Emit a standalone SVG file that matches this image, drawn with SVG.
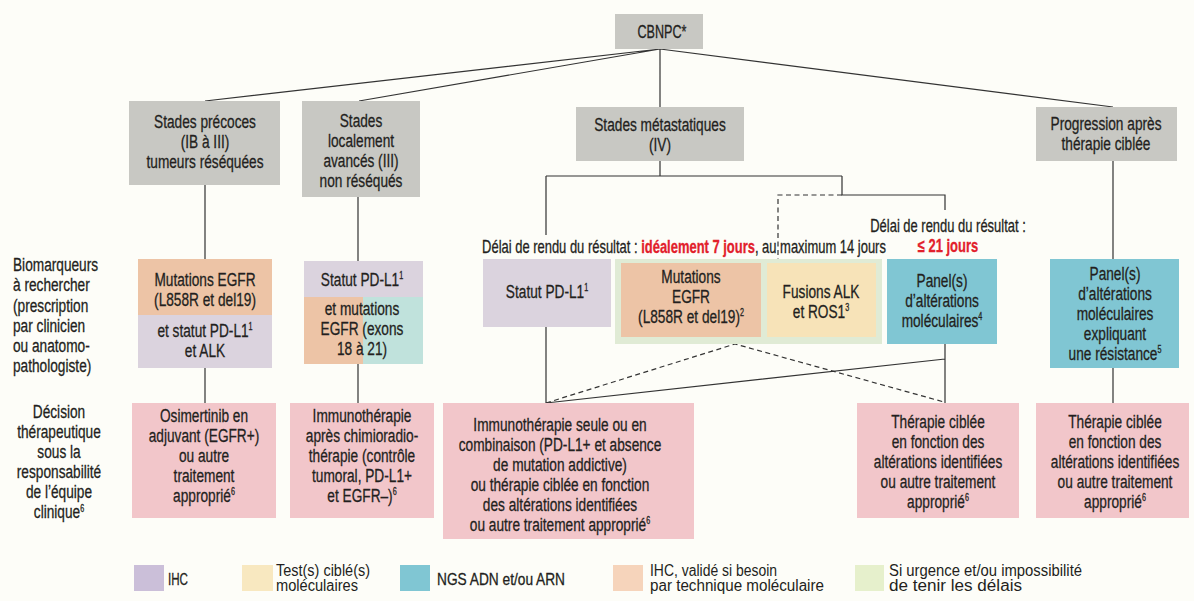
<svg xmlns="http://www.w3.org/2000/svg" width="1194" height="601" viewBox="0 0 1194 601">
<style>
.gray{fill:#c8c8c3}
.lav{fill:#dbd3de}
.ora{fill:#edc4a6}
.yel{fill:#f7e3b8}
.teal{fill:#80c6d3}
.lteal{fill:#c0e2dc}
.grn{fill:#e0ebd5}
.pink{fill:#f2c6ca}
text{font-family:"Liberation Sans",Arial,sans-serif;font-size:19px;fill:#231f20;stroke:#231f20;stroke-width:.3}
.m{text-anchor:middle}
.s{font-size:10px}
.d{font-size:18px}
.lg{font-size:17px}
.lg2{font-size:16px;stroke-width:0}
.cb{font-size:18px}
.red{fill:#e2202b;stroke:#e2202b;font-weight:bold}
.ln{stroke:#333;stroke-width:1.2;fill:none}
.ds{stroke-dasharray:5 3.5}
</style>
<rect width="1194" height="601" fill="#fdfdf8"/>

<g id="connectors">
  <path class="ln" d="M660 49 L205 101 M660 49 L359 101 M660 49 L660 107 M660 49 L1113 107"/>
  <path class="ln" d="M205 185 V259 M205 368 V403"/>
  <path class="ln" d="M358 197 V261 M358 364 V403"/>
  <path class="ln" d="M660 161 V176 M546 176 H842 M546 176 V235 M842 176 V195 H945 V210"/>
  <path class="ln ds" d="M842 195 H778 V259"/>
  <path class="ln" d="M546 327 V403 M546 403 L945 359 M945 344 V403"/>
  <path class="ln ds" d="M546 403 L735 344 L944 402"/>
  <path class="ln" d="M1113 161 V259 M1113 368 V403"/>
</g>

<g id="n-cbnpc">
  <rect class="gray" x="615" y="14" width="88" height="35"/>
  <text class="m cb" transform="translate(662 0) scale(.7 1)"><tspan x="0" y="38">CBNPC*</tspan></text>
</g>

<g id="n-precoces">
  <rect class="gray" x="129" y="101" width="151" height="84"/>
  <text class="m" transform="translate(205 0) scale(.72 1)"><tspan x="0" y="128">Stades précoces</tspan><tspan x="0" y="148">(IB à III)</tspan><tspan x="0" y="168">tumeurs réséquées</tspan></text>
</g>

<g id="n-localement">
  <rect class="gray" x="302" y="101" width="118" height="96"/>
  <text class="m" transform="translate(361 0) scale(.72 1)"><tspan x="0" y="127">Stades</tspan><tspan x="0" y="147">localement</tspan><tspan x="0" y="167">avancés (III)</tspan><tspan x="0" y="187">non réséqués</tspan></text>
</g>

<g id="n-metastatiques">
  <rect class="gray" x="576" y="107" width="168" height="54"/>
  <text class="m" transform="translate(660 0) scale(.72 1)"><tspan x="0" y="131">Stades métastatiques</tspan><tspan x="0" y="151">(IV)</tspan></text>
</g>

<g id="n-progression">
  <rect class="gray" x="1036" y="107" width="141" height="54"/>
  <text class="m" transform="translate(1106 0) scale(.72 1)"><tspan x="0" y="130">Progression après</tspan><tspan x="0" y="150">thérapie ciblée</tspan></text>
</g>

<g id="n-label-biomarqueurs">
  <text transform="translate(13 0) scale(.72 1)"><tspan x="0" y="271">Biomarqueurs</tspan><tspan x="0" y="291">à rechercher</tspan><tspan x="0" y="312">(prescription</tspan><tspan x="0" y="332">par clinicien</tspan><tspan x="0" y="352">ou anatomo-</tspan><tspan x="0" y="372">pathologiste)</tspan></text>
</g>

<g id="n-label-decision">
  <text class="m" transform="translate(59 0) scale(.72 1)"><tspan x="0" y="418">Décision</tspan><tspan x="0" y="438">thérapeutique</tspan><tspan x="0" y="458">sous la</tspan><tspan x="0" y="478">responsabilité</tspan><tspan x="0" y="498">de l’équipe</tspan><tspan x="0" y="518">clinique</tspan><tspan class="s" dy="-6">6</tspan></text>
</g>

<g id="n-bio-precoces">
  <rect class="ora" x="138" y="259" width="134" height="56"/>
  <rect class="lav" x="138" y="315" width="134" height="53"/>
  <text class="m" transform="translate(205 0) scale(.72 1)"><tspan x="0" y="286">Mutations EGFR</tspan><tspan x="0" y="306">(L858R et del19)</tspan><tspan x="0" y="337">et statut PD-L1</tspan><tspan class="s" dy="-7">1</tspan><tspan x="0" y="357">et ALK</tspan></text>
</g>

<g id="n-bio-localement">
  <rect class="lav" x="304" y="261" width="119" height="36"/>
  <rect class="ora" x="304" y="297" width="59" height="67"/>
  <rect class="lteal" x="363" y="297" width="60" height="67"/>
  <text class="m" transform="translate(362 0) scale(.72 1)"><tspan x="0" y="286">Statut PD-L1</tspan><tspan class="s" dy="-7">1</tspan><tspan x="0" y="315">et mutations</tspan><tspan x="0" y="335">EGFR (exons</tspan><tspan x="0" y="355">18 à 21)</tspan></text>
</g>

<g id="n-delai-1">
  <text class="m d" transform="translate(684 0) scale(.72 1)"><tspan x="0" y="253">Délai de rendu du résultat : <tspan class="red">idéalement 7 jours</tspan>, au maximum 14 jours</tspan></text>
</g>

<g id="n-delai-2">
  <text class="m d" transform="translate(948 0) scale(.72 1)"><tspan x="0" y="232">Délai de rendu du résultat :</tspan><tspan class="red" x="0" y="252">≤ 21 jours</tspan></text>
</g>

<g id="n-pdl1-meta">
  <rect class="lav" x="483" y="259" width="128" height="68"/>
  <text class="m" transform="translate(547 0) scale(.72 1)"><tspan x="0" y="298">Statut PD-L1</tspan><tspan class="s" dy="-7">1</tspan></text>
</g>

<g id="n-urgence">
  <rect class="grn" x="615" y="259" width="267" height="85"/>
  <g id="n-egfr-meta">
    <rect class="ora" x="621" y="263" width="140" height="74"/>
    <text class="m" transform="translate(691 0) scale(.72 1)"><tspan x="0" y="283">Mutations</tspan><tspan x="0" y="303">EGFR</tspan><tspan x="0" y="323">(L858R et del19)</tspan><tspan class="s" dy="-7">2</tspan></text>
  </g>
  <g id="n-alk-ros">
    <rect class="yel" x="767" y="263" width="109" height="74"/>
    <text class="m" transform="translate(821 0) scale(.72 1)"><tspan x="0" y="298">Fusions ALK</tspan><tspan x="0" y="318">et ROS1</tspan><tspan class="s" dy="-7">3</tspan></text>
  </g>
</g>

<g id="n-panel-meta">
  <rect class="teal" x="887" y="259" width="110" height="85"/>
  <text class="m" transform="translate(942 0) scale(.72 1)"><tspan x="0" y="287">Panel(s)</tspan><tspan x="0" y="307">d’altérations</tspan><tspan x="0" y="327">moléculaires</tspan><tspan class="s" dy="-7">4</tspan></text>
</g>

<g id="n-panel-resistance">
  <rect class="teal" x="1050" y="259" width="129" height="109"/>
  <text class="m" transform="translate(1115 0) scale(.72 1)"><tspan x="0" y="280">Panel(s)</tspan><tspan x="0" y="300">d’altérations</tspan><tspan x="0" y="320">moléculaires</tspan><tspan x="0" y="340">expliquant</tspan><tspan x="0" y="360">une résistance</tspan><tspan class="s" dy="-7">5</tspan></text>
</g>

<g id="n-osimertinib">
  <rect class="pink" x="132" y="403" width="144" height="115"/>
  <text class="m" transform="translate(204 0) scale(.72 1)"><tspan x="0" y="422">Osimertinib en</tspan><tspan x="0" y="442">adjuvant (EGFR+)</tspan><tspan x="0" y="462">ou autre</tspan><tspan x="0" y="482">traitement</tspan><tspan x="0" y="502">approprié</tspan><tspan class="s" dy="-7">6</tspan></text>
</g>

<g id="n-immuno-localement">
  <rect class="pink" x="290" y="403" width="144" height="115"/>
  <text class="m" transform="translate(362 0) scale(.72 1)"><tspan x="0" y="422">Immunothérapie</tspan><tspan x="0" y="442">après chimioradio-</tspan><tspan x="0" y="462">thérapie (contrôle</tspan><tspan x="0" y="482">tumoral, PD-L1+</tspan><tspan x="0" y="502">et EGFR–)</tspan><tspan class="s" dy="-7">6</tspan></text>
</g>

<g id="n-immuno-meta">
  <rect class="pink" x="443" y="403" width="251" height="136"/>
  <text class="m" transform="translate(560 0) scale(.72 1)"><tspan x="0" y="431">Immunothérapie seule ou en</tspan><tspan x="0" y="451">combinaison (PD-L1+ et absence</tspan><tspan x="0" y="471">de mutation addictive)</tspan><tspan x="0" y="491">ou thérapie ciblée en fonction</tspan><tspan x="0" y="511">des altérations identifiées</tspan><tspan x="0" y="531">ou autre traitement approprié</tspan><tspan class="s" dy="-7">6</tspan></text>
</g>

<g id="n-therapie-meta">
  <rect class="pink" x="857" y="403" width="162" height="115"/>
  <text class="m" transform="translate(938 0) scale(.72 1)"><tspan x="0" y="428">Thérapie ciblée</tspan><tspan x="0" y="448">en fonction des</tspan><tspan x="0" y="468">altérations identifiées</tspan><tspan x="0" y="488">ou autre traitement</tspan><tspan x="0" y="508">approprié</tspan><tspan class="s" dy="-7">6</tspan></text>
</g>

<g id="n-therapie-resistance">
  <rect class="pink" x="1036" y="403" width="153" height="115"/>
  <text class="m" transform="translate(1115 0) scale(.72 1)"><tspan x="0" y="428">Thérapie ciblée</tspan><tspan x="0" y="448">en fonction des</tspan><tspan x="0" y="468">altérations identifiées</tspan><tspan x="0" y="488">ou autre traitement</tspan><tspan x="0" y="508">approprié</tspan><tspan class="s" dy="-7">6</tspan></text>
</g>

<g id="legend">
  <rect x="134" y="565" width="30" height="26" fill="#cbbfd9"/>
  <text class="lg" x="168" y="585" textLength="20" lengthAdjust="spacingAndGlyphs">IHC</text>
  <rect x="242" y="565" width="31" height="26" fill="#f8e8c0"/>
  <text class="lg2" x="276" y="575.5" textLength="94" lengthAdjust="spacingAndGlyphs">Test(s) ciblé(s)</text>
  <text class="lg2" x="276" y="591" textLength="82" lengthAdjust="spacingAndGlyphs">moléculaires</text>
  <rect x="400" y="565" width="30" height="26" fill="#80c6d3"/>
  <text class="lg" x="437" y="585" textLength="128" lengthAdjust="spacingAndGlyphs">NGS ADN et/ou ARN</text>
  <rect x="613" y="565" width="30" height="26" fill="#f6d4bb"/>
  <text class="lg2" x="650" y="575.5" textLength="127" lengthAdjust="spacingAndGlyphs">IHC, validé si besoin</text>
  <text class="lg2" x="650" y="591" textLength="174" lengthAdjust="spacingAndGlyphs">par technique moléculaire</text>
  <rect x="855" y="565" width="29" height="26" fill="#e6f0cc"/>
  <text class="lg2" x="889" y="575.5" textLength="193" lengthAdjust="spacingAndGlyphs">Si urgence et/ou impossibilité</text>
  <text class="lg2" x="889" y="591" textLength="133" lengthAdjust="spacingAndGlyphs">de tenir les délais</text>
</g>
</svg>
